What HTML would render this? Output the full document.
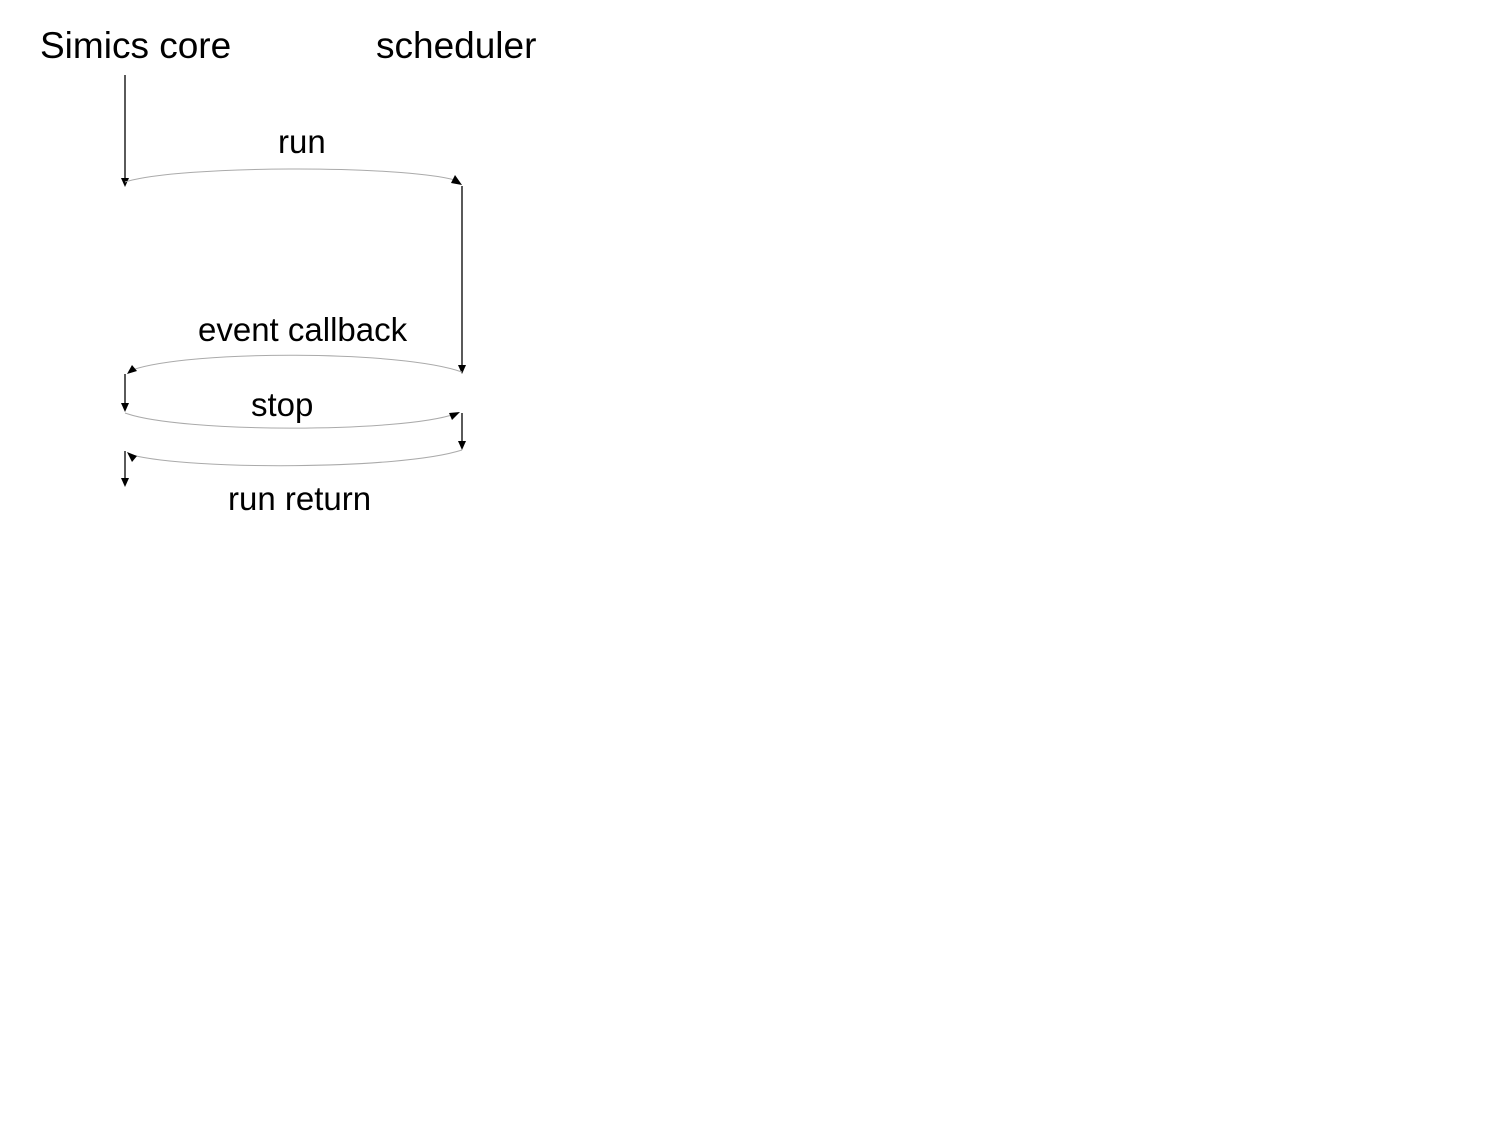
<!DOCTYPE html>
<html><head><style>body{margin:0;background:#fff}</style></head><body>
<svg width="1500" height="1125" xmlns="http://www.w3.org/2000/svg" font-family="Liberation Sans, sans-serif">
<rect width="1500" height="1125" fill="#fff"/>
<text x="40" y="58" font-size="37">Simics core</text>
<text x="376" y="58" font-size="37">scheduler</text>
<text x="278" y="153" font-size="33">run</text>
<text x="198" y="341" font-size="33">event callback</text>
<text x="251" y="416" font-size="33">stop</text>
<text x="228" y="510" font-size="33">run return</text>
<g stroke="#000" stroke-width="1.3" fill="none">
<line x1="125" y1="75" x2="125" y2="180"/>
<line x1="462" y1="186" x2="462" y2="366"/>
<line x1="125" y1="374" x2="125" y2="404"/>
<line x1="462" y1="413" x2="462" y2="442"/>
<line x1="125" y1="451" x2="125" y2="479"/>
</g>
<g fill="#000">
<path d="M121,178 L129,178 L125,187z"/>
<path d="M458,365 L466,365 L462,374z"/>
<path d="M121,403 L129,403 L125,412z"/>
<path d="M458,441 L466,441 L462,450z"/>
<path d="M121,478 L129,478 L125,487z"/>
</g>
<g stroke="#aaa" stroke-width="1" fill="none">
<path d="M125,182 C180,165 400,165 455,180"/>
<path d="M462,372 C400,350 190,350 132,370"/>
<path d="M125,413 C180,433 400,433 455,414"/>
<path d="M462,450 C400,470 190,470 132,455"/>
</g>
<g fill="#000">
<path d="M462,185 L451,183 L455,175z"/>
<path d="M127,374 L132,365 L137,371z"/>
<path d="M460,412 L449,413 L452,420z"/>
<path d="M127,452 L137,456 L132,462z"/>
</g>
</svg>
</body></html>
